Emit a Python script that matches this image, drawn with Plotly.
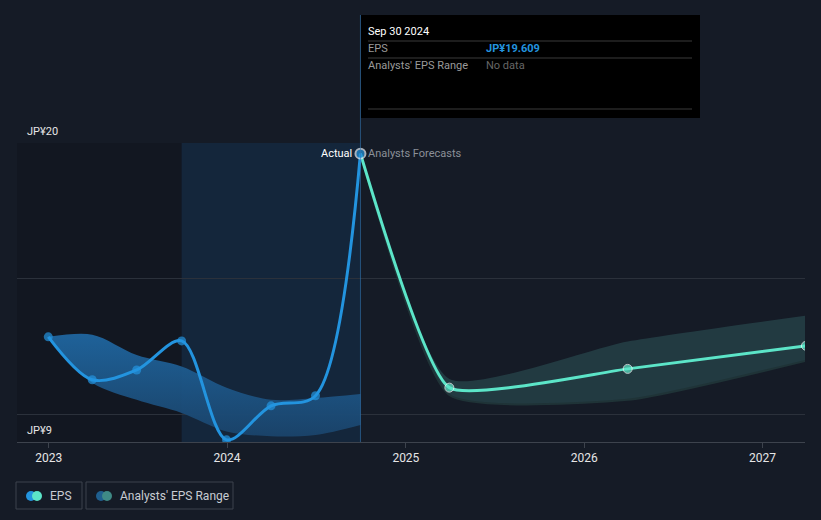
import plotly.graph_objects as go

# ---- data ----
actual_dates = ['2022-12-31', '2023-03-31', '2023-06-30', '2023-09-30',
                '2023-12-31', '2024-03-31', '2024-06-30', '2024-09-30']
actual_eps = [12.87, 11.29, 11.65, 12.72, 9.08, 10.33, 10.70, 19.609]

past_range_high = [12.87, 12.95, 12.20, 11.78, 11.00, 10.55, 10.62, 10.77]
past_range_low = [12.87, 11.18, 10.55, 10.07, 9.39, 9.21, 9.26, 9.63]

forecast_dates = ['2024-09-30', '2025-03-31', '2026-03-31', '2027-03-31']
forecast_eps = [19.609, 11.00, 11.69, 12.54]
forecast_high = [19.609, 11.32, 12.70, 13.65]
forecast_low = [19.609, 10.73, 10.55, 11.99]

year_ticks = ['2023-01-01', '2024-01-01', '2025-01-01', '2026-01-01', '2027-01-01']
year_labels = ['2023', '2024', '2025', '2026', '2027']
y_labels = {20: 'JP¥20', 9: 'JP¥9'}

BG = '#151b26'
BLUE = '#2394df'
TEAL = '#5ce5c8'
FONT = 'Roboto'

W, H = 821, 520
L, R, T, B = 17, 805, 143, 442


def px(x):
    return (x - L) / (R - L)


def py(y):
    return (B - y) / (B - T)


fig = go.Figure()

# past analyst range band
fig.add_trace(go.Scatter(x=actual_dates, y=past_range_low, mode='lines',
                         line=dict(width=0, shape='spline', smoothing=0.9),
                         hoverinfo='skip', showlegend=False))
fig.add_trace(go.Scatter(x=actual_dates, y=past_range_high, mode='lines',
                         line=dict(width=0, shape='spline', smoothing=0.9), fill='tonexty',
                         fillgradient=dict(type='vertical', start=9, stop=13,
                                           colorscale=[[0, 'rgba(26,66,104,0.95)'],
                                                       [1, 'rgba(31,102,160,0.95)']]),
                         hoverinfo='skip', showlegend=False))

# forecast range band
fig.add_trace(go.Scatter(x=forecast_dates, y=forecast_low, mode='lines',
                         line=dict(width=2, color='#1f3337', shape='spline', smoothing=0.5),
                         hoverinfo='skip', showlegend=False))
fig.add_trace(go.Scatter(x=forecast_dates, y=forecast_high, mode='lines',
                         line=dict(width=0, shape='spline', smoothing=0.55), fill='tonexty',
                         fillcolor='rgba(42,78,82,0.62)',
                         hoverinfo='skip', showlegend=False))

# forecast EPS
fig.add_trace(go.Scatter(x=forecast_dates, y=forecast_eps, mode='lines+markers',
                         line=dict(width=3, color=TEAL, shape='spline', smoothing=0.45),
                         marker=dict(size=[0, 9, 9, 9], color=TEAL),
                         showlegend=False))

# actual EPS
fig.add_trace(go.Scatter(x=actual_dates, y=actual_eps, mode='lines+markers',
                         line=dict(width=3, color=BLUE, shape='spline', smoothing=0.9),
                         marker=dict(size=[9] * 7 + [10], color=BLUE,
                                     line=dict(width=[0] * 7 + [2],
                                               color='#e8eef5')),
                         showlegend=False))

shapes = []
# darker area before last 12 months
shapes.append(dict(type='rect', xref='x', yref='paper', x0='2022-10-28', x1='2023-09-30',
                   y0=0, y1=1, fillcolor='rgba(0,0,0,0.13)', line=dict(width=0),
                   layer='below'))
# highlighted last 12 months
shapes.append(dict(type='rect', xref='x', yref='paper', x0='2023-09-30', x1='2024-09-30',
                   y0=0, y1=1, fillcolor='rgba(18,70,118,0.26)', line=dict(width=0),
                   layer='below'))
# hover line
shapes.append(dict(type='line', xref='x', yref='paper', x0='2024-09-30', x1='2024-09-30',
                   y0=0, y1=py(15), line=dict(color='rgba(50,120,180,0.6)', width=1)))
# tooltip box
shapes.append(dict(type='rect', xref='paper', yref='paper', x0=px(361), x1=px(700),
                   y0=py(118), y1=py(15), fillcolor='#000000', line=dict(width=0)))
for yy in (41, 58, 109):
    shapes.append(dict(type='line', xref='paper', yref='paper', x0=px(368), x1=px(692),
                       y0=py(yy), y1=py(yy), line=dict(color='#3a3a3a', width=1)))
# legend boxes
for x0, x1 in ((16, 82), (86, 233)):
    shapes.append(dict(type='rect', xref='paper', yref='paper', x0=px(x0), x1=px(x1),
                       y0=py(509), y1=py(482), fillcolor='rgba(0,0,0,0)',
                       line=dict(color='#3c424c', width=1)))
# legend dots
for cx, col in ((31, BLUE), (37, TEAL), (101, '#1f5f8f'), (107, '#3f8a86')):
    shapes.append(dict(type='circle', xref='paper', yref='paper',
                       xsizemode='pixel', ysizemode='pixel',
                       xanchor=px(cx), yanchor=py(496), x0=-5, x1=5, y0=-5, y1=5,
                       fillcolor=col, line=dict(width=0)))

annotations = []
for val, txt in y_labels.items():
    annotations.append(dict(xref='paper', yref='y', x=px(25), y=val, text=txt,
                            showarrow=False, xanchor='left', yanchor='bottom', yshift=3,
                            font=dict(family=FONT, size=11, color='#e6e6e6')))
annotations.append(dict(xref='x', yref='y', x='2024-09-30', y=19.609, text='Actual',
                        showarrow=False, xanchor='right', xshift=-6,
                        font=dict(family=FONT, size=11, color='#ffffff')))
annotations.append(dict(xref='x', yref='y', x='2024-09-30', y=19.609,
                        text='Analysts Forecasts', showarrow=False, xanchor='left',
                        xshift=6, font=dict(family=FONT, size=11, color='#8b9098')))
# tooltip texts
tip = [
    (366, 31, 'Sep 30 2024', '#ffffff', 11),
    (366, 48, 'EPS', '#9a9a9a', 11),
    (484, 48, '<b>JP¥19.609</b>', BLUE, 11),
    (366, 66, "Analysts' EPS Range", '#9a9a9a', 11),
    (484, 66, 'No data', '#666666', 11),
]
for x, y, txt, col, sz in tip:
    annotations.append(dict(xref='paper', yref='paper', x=px(x), y=py(y), text=txt,
                            showarrow=False, xanchor='left', yanchor='middle',
                            font=dict(family=FONT, size=sz, color=col)))
# legend texts
for x, txt in ((48, 'EPS'), (118, "Analysts' EPS Range")):
    annotations.append(dict(xref='paper', yref='paper', x=px(x), y=py(496), text=txt,
                            showarrow=False, xanchor='left', yanchor='middle',
                            font=dict(family=FONT, size=12, color='#c8ccd2')))

fig.update_layout(
    width=W, height=H,
    margin=dict(l=L, r=W - R, t=T, b=H - B),
    paper_bgcolor=BG, plot_bgcolor=BG,
    showlegend=False,
    shapes=shapes, annotations=annotations,
    xaxis=dict(type='date', range=['2022-10-28', '2027-03-29'],
               tickvals=year_ticks, ticktext=year_labels,
               showgrid=False, zeroline=False,
               showline=True, linecolor='#3d434d', linewidth=1,
               ticks='outside', ticklen=5, tickcolor='#3d434d',
               tickfont=dict(family=FONT, size=12, color='#e6e6e6')),
    yaxis=dict(range=[9, 20], tickvals=[10, 15, 20], showticklabels=False,
               showgrid=True, gridcolor='#2b313b', gridwidth=1, zeroline=False,
               showline=False),
)

fig.write_html('out.html',
               config={'displayModeBar': False},
               post_script="document.body.style.margin='0';"
                           "document.body.style.background='#151b26';"
                           "document.body.style.overflow='hidden';")
